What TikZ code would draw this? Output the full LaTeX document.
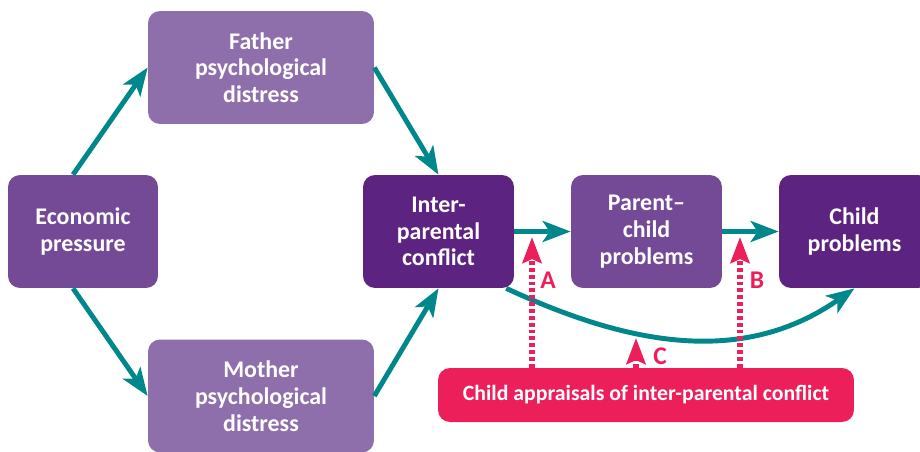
\documentclass[tikz,border=0pt]{standalone}
\usepackage{fontspec}
\setmainfont{Carlito}
\usetikzlibrary{arrows.meta}

\definecolor{midpurple}{HTML}{744A97}
\definecolor{lightpurple}{HTML}{8E6FAB}
\definecolor{darkpurple}{HTML}{5D2381}
\definecolor{linkteal}{HTML}{00878B}
\definecolor{apink}{HTML}{EC1F5B}

\begin{document}
\begin{tikzpicture}[x=0.02cm, y=-0.02cm,
	box/.style={rounded corners=0.24cm, text=white, align=center, inner sep=0pt,
		font=\fontsize{13.6}{15.2}\selectfont\bfseries, minimum height=2.26cm},
	link/.style={line width=2.8pt, linkteal, -{Stealth[length=0.56cm, width=0.42cm, inset=0.14cm]}},
	pinklink/.style={line width=3pt, apink, dash pattern=on 2.2pt off 1.7pt,
		-{Stealth[length=0.52cm, width=0.38cm, inset=0.08cm]}},
	letter/.style={apink, font=\fontsize{14.5}{15}\selectfont\bfseries}]

	\useasboundingbox (0,0) rectangle (920,451);

	\node[box, fill=midpurple, minimum width=3cm] (econ) at (83,231.5) {Economic\\pressure};
	\node[box, fill=lightpurple, minimum width=4.52cm] (father) at (261,67.5) {Father\\psychological\\distress};
	\node[box, fill=lightpurple, minimum width=4.52cm] (mother) at (261,396) {Mother\\psychological\\distress};
	\node[box, fill=darkpurple, minimum width=3.02cm] (inter) at (438.5,231.5) {Inter-\\parental\\conflict};
	\node[box, fill=midpurple, minimum width=3.02cm] (pc) at (646.5,231.5) {Parent--\\child\\problems};
	\node[box, fill=darkpurple, minimum width=3.02cm] (child) at (854.5,231.5) {Child\\problems};
	\node[box, fill=apink, minimum width=8.32cm, minimum height=1.08cm, font=\fontsize{12.4}{14}\selectfont\bfseries]
		(appr) at (646,395) {Child appraisals of inter-parental conflict};

	\draw[link] ([xshift=-0.2cm]econ.north) -- (father.west);
	\draw[link] ([xshift=-0.2cm]econ.south) -- (mother.west);
	\draw[link] (father.east) -- (inter.north);
	\draw[link] (mother.east) -- (inter.south);
	\draw[link] (inter.east) -- (pc.west);
	\draw[link] (pc.east) -- (child.west);
	\draw[link] (inter.-40) to[out=-25, in=215] (child.south);

	\coordinate (tipA) at (532,237);
	\coordinate (tipB) at (740,237);
	\coordinate (tipC) at (636,338);
	\draw[pinklink] (appr.north -| tipA) -- (tipA);
	\draw[pinklink] (appr.north -| tipB) -- (tipB);
	\draw[pinklink] (appr.north -| tipC) -- (tipC);

	\node[letter] (labA) at (548,280) {A};
	\node[letter] (labB) at (757,280) {B};
	\node[letter] (labC) at (660,356) {C};

\end{tikzpicture}
\end{document}
